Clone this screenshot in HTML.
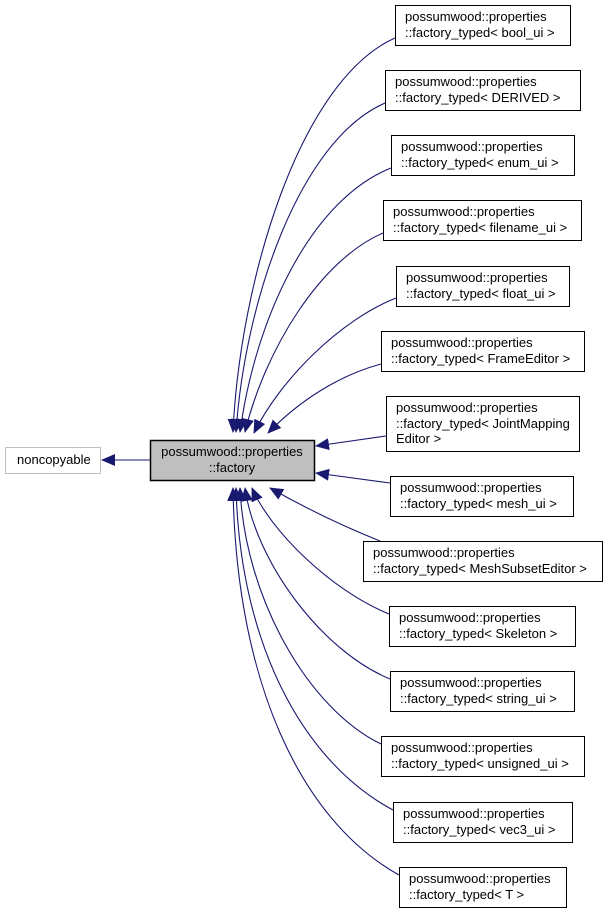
<!DOCTYPE html>
<html><head><meta charset="utf-8"><style>
body{margin:0;background:#fff;width:608px;height:913px;overflow:hidden}
svg{display:block}
text{font-family:"Liberation Sans",sans-serif;font-size:13px;fill:#000}
</style></head><body>
<svg width="608" height="913" xmlns="http://www.w3.org/2000/svg">
<defs><marker id="a" markerWidth="14" markerHeight="12" refX="13" refY="6" orient="auto" markerUnits="userSpaceOnUse"><path d="M0,0 L14,6 L0,12 Z" fill="#191970"/></marker></defs>
<g fill="none" stroke="#191970" stroke-width="1.1" marker-end="url(#a)">
<path d="M395,38 C300,80 240,280 233,432"/>
<path d="M385,103 C300,140 245,300 236,432"/>
<path d="M391,168 C310,200 255,320 240,432"/>
<path d="M383,233 C320,260 265,350 245,432"/>
<path d="M396,298 C340,320 280,380 254,433"/>
<path d="M381,364 C340,375 300,400 268,433"/>
<path d="M386,436 L316,446"/>
<path d="M390,483 L316,473"/>
<path d="M380,541 C340,525 300,505 270,488"/>
<path d="M389,614 C330,590 270,530 252,488"/>
<path d="M390,679 C320,650 255,560 245,488"/>
<path d="M381,744 C310,710 245,600 240,488"/>
<path d="M393,810 C300,760 240,640 236,488"/>
<path d="M399,875 C300,820 236,680 233,488"/>
<path d="M150,460 L102,460"/>
</g>
<g fill="#fff" stroke="#000" stroke-width="1">
<rect x="395.5" y="5.5" width="175" height="40"/>
<rect x="385.5" y="70.5" width="195" height="40"/>
<rect x="391.5" y="135.5" width="183" height="40"/>
<rect x="383.5" y="200.5" width="198" height="40"/>
<rect x="396.5" y="266.5" width="173" height="40"/>
<rect x="381.5" y="331.5" width="203" height="40"/>
<rect x="386.5" y="396.5" width="193" height="55"/>
<rect x="390.5" y="476.5" width="183" height="40"/>
<rect x="363.5" y="541.5" width="239" height="40"/>
<rect x="389.5" y="606.5" width="186" height="40"/>
<rect x="390.5" y="671.5" width="184" height="40"/>
<rect x="381.5" y="736.5" width="203" height="40"/>
<rect x="393.5" y="802.5" width="179" height="40"/>
<rect x="399.5" y="867.5" width="167" height="40"/>
<rect x="5.5" y="447.5" width="95" height="26" stroke="#bfbfbf"/>
<rect x="150.5" y="440.5" width="164" height="40" fill="#bfbfbf" stroke-width="1.5"/>
</g>
<text x="405" y="21">possumwood::properties</text><text x="405" y="37">::factory_typed&lt; bool_ui &gt;</text>
<text x="395" y="86">possumwood::properties</text><text x="395" y="102">::factory_typed&lt; DERIVED &gt;</text>
<text x="401" y="151">possumwood::properties</text><text x="401" y="167">::factory_typed&lt; enum_ui &gt;</text>
<text x="393" y="216">possumwood::properties</text><text x="393" y="232">::factory_typed&lt; filename_ui &gt;</text>
<text x="406" y="282">possumwood::properties</text><text x="406" y="298">::factory_typed&lt; float_ui &gt;</text>
<text x="391" y="347">possumwood::properties</text><text x="391" y="363">::factory_typed&lt; FrameEditor &gt;</text>
<text x="396" y="412">possumwood::properties</text><text x="396" y="428">::factory_typed&lt; JointMapping</text><text x="396" y="443">Editor &gt;</text>
<text x="400" y="492">possumwood::properties</text><text x="400" y="508">::factory_typed&lt; mesh_ui &gt;</text>
<text x="373" y="557">possumwood::properties</text><text x="373" y="573">::factory_typed&lt; MeshSubsetEditor &gt;</text>
<text x="399" y="622">possumwood::properties</text><text x="399" y="638">::factory_typed&lt; Skeleton &gt;</text>
<text x="400" y="687">possumwood::properties</text><text x="400" y="703">::factory_typed&lt; string_ui &gt;</text>
<text x="391" y="752">possumwood::properties</text><text x="391" y="768">::factory_typed&lt; unsigned_ui &gt;</text>
<text x="403" y="818">possumwood::properties</text><text x="403" y="834">::factory_typed&lt; vec3_ui &gt;</text>
<text x="409" y="883">possumwood::properties</text><text x="409" y="899">::factory_typed&lt; T &gt;</text>
<text x="17" y="464">noncopyable</text>
<text x="232" y="456" text-anchor="middle">possumwood::properties</text>
<text x="232" y="472" text-anchor="middle">::factory</text>
</svg>
</body></html>
